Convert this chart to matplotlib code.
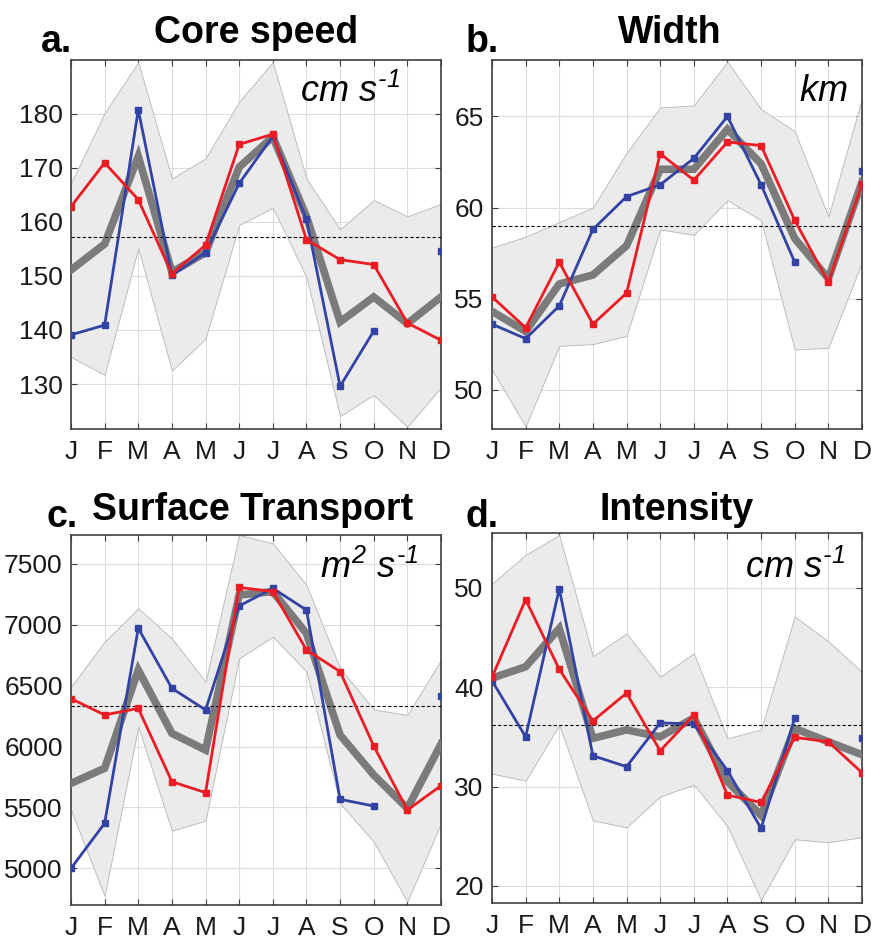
import numpy as np
import matplotlib
matplotlib.use("Agg")
import matplotlib.pyplot as plt

plt.rcParams['font.family'] = ['Liberation Sans', 'DejaVu Sans']
plt.rcParams['mathtext.fontset'] = 'custom'
plt.rcParams['mathtext.it'] = 'Liberation Sans:italic'
plt.rcParams['mathtext.rm'] = 'Liberation Sans:italic'

months = ['J', 'F', 'M', 'A', 'M', 'J', 'J', 'A', 'S', 'O', 'N', 'D']
nan = np.nan

# a. core speed (cm s-1)
speed_mean = [151.1, 155.9, 172.1, 150.7, 154.3, 170.1, 175.7, 161.0, 141.5, 146.1, 141.2, 146.1]
speed_hi = [167.1, 180.1, 189.5, 168.0, 171.7, 182.2, 189.5, 168.0, 158.6, 164.0, 161.0, 163.3]
speed_lo = [135.0, 131.7, 155.1, 132.5, 138.4, 159.4, 162.6, 149.8, 124.1, 128.0, 122.1, 129.4]
speed_red = [162.8, 170.9, 164.1, 150.4, 155.7, 174.3, 176.2, 156.7, 153.0, 152.1, 141.3, 138.1]
speed_blue = [139.1, 140.9, 180.7, 150.1, 154.3, 167.1, 175.8, 160.5, 129.6, 139.8, nan, 154.6]
speed_ref = 157.2

# b. width (km)
width_mean = [54.3, 53.2, 55.8, 56.3, 57.9, 62.1, 62.1, 64.3, 62.4, 58.3, 56.1, 61.4]
width_hi = [57.8, 58.4, 59.2, 60.0, 63.0, 65.5, 65.6, 68.0, 65.4, 64.2, 59.5, 66.0]
width_lo = [51.1, 47.98, 52.4, 52.5, 52.95, 58.8, 58.5, 60.4, 59.3, 52.2, 52.3, 57.0]
width_red = [55.1, 53.4, 57.0, 53.6, 55.3, 62.96, 61.5, 63.6, 63.4, 59.3, 55.9, 61.3]
width_blue = [53.6, 52.8, 54.6, 58.8, 60.6, 61.25, 62.7, 65.0, 61.25, 57.0, nan, 62.0]
width_ref = 59.0

# c. surface transport (m2 s-1)
trans_mean = [5698, 5822, 6629, 6109, 5972, 7245, 7273, 6930, 6095, 5767, 5493, 6021]
trans_hi = [6492, 6862, 7136, 6889, 6533, 7738, 7670, 7327, 6643, 6306, 6260, 6711]
trans_lo = [5479, 4773, 6164, 5309, 5392, 6725, 6903, 6616, 5534, 5219, 4726, 5370]
trans_red = [6394, 6260, 6314, 5712, 5622, 7308, 7273, 6794, 6616, 6005, 5479, 5679]
trans_blue = [5000, 5370, 6972, 6479, 6301, 7155, 7300, 7122, 5567, 5512, nan, 6416]
trans_ref = 6334

# d. intensity (cm s-1)
inten_mean = [40.9, 42.05, 45.9, 34.85, 35.7, 35.0, 36.9, 30.5, 27.1, 35.85, 34.5, 33.2]
inten_hi = [50.4, 53.3, 55.3, 43.1, 45.4, 41.05, 43.4, 34.85, 35.75, 47.1, 44.6, 41.55]
inten_lo = [31.3, 30.6, 36.2, 26.6, 25.9, 29.0, 30.2, 26.0, 18.6, 24.7, 24.4, 24.9]
inten_red = [41.0, 48.8, 41.8, 36.6, 39.4, 33.6, 37.2, 29.15, 28.4, 34.95, 34.5, 31.4]
inten_blue = [40.65, 35.0, 49.9, 33.1, 32.0, 36.4, 36.3, 31.6, 25.8, 36.9, nan, 34.9]
inten_ref = 36.2

x = np.arange(1, 13)

fig = plt.figure(figsize=(8.75, 9.36), dpi=100)

panels = [
    # axes rect, data, ylim, yticks, title, letter, unit, title pos, letter pos, unit pos
    ([71/875, 1-429/936, 370/875, 369/936], speed_mean, speed_hi, speed_lo, speed_red, speed_blue, speed_ref,
     (121.7, 189.9), [130, 140, 150, 160, 170, 180], 'Core speed', 'a.', r'$cm\ s^{‐1}$',
     (256, 43), (41, 52), (0.89, 0.885)),
    ([492/875, 1-429/936, 370/875, 369/936], width_mean, width_hi, width_lo, width_red, width_blue, width_ref,
     (47.84, 68.1), [50, 55, 60, 65], 'Width', 'b.', r'$km$',
     (670, 43), (466, 52), (0.96, 0.89)),
    ([71/875, 1-905/936, 370/875, 370/936], trans_mean, trans_hi, trans_lo, trans_red, trans_blue, trans_ref,
     (4699, 7738), [5000, 5500, 6000, 6500, 7000, 7500], 'Surface Transport', 'c.', r'$m^{2}\ s^{‐1}$',
     (253, 520), (46, 527), (0.94, 0.884)),
    ([492/875, 1-902.7/936, 370/875, 370/936], inten_mean, inten_hi, inten_lo, inten_red, inten_blue, inten_ref,
     (18.32, 55.53), [20, 30, 40, 50], 'Intensity', 'd.', r'$cm\ s^{‐1}$',
     (677, 520), (465, 527), (0.955, 0.877)),
]

for (rect, mean, hi, lo, red, blue, ref, ylim, yticks, title, letter, unit,
     tpos, lpos, upos) in panels:
    ax = fig.add_axes(rect)
    ax.fill_between(x, lo, hi, facecolor='#ebebeb', edgecolor='#bdbdbd', linewidth=0.7, zorder=1)
    ax.plot(x, mean, color='#7b7b7b', linewidth=5.5, solid_joinstyle='miter', zorder=3)
    ax.axhline(ref, color='black', linestyle=(0, (3, 2)), linewidth=0.8, zorder=4)
    ax.plot(x, blue, color='#3343a3', linewidth=2, marker='s', markersize=4.5, zorder=5)
    ax.plot(x, red, color='#ec1c24', linewidth=2, marker='s', markersize=4.5, zorder=6)

    ax.set_xlim(1, 12)
    ax.set_ylim(*ylim)
    ax.set_xticks(x)
    ax.set_xticklabels(months)
    ax.set_yticks(yticks)
    ax.grid(True, color='#dcdcdc', linewidth=0.8, zorder=0)
    ax.set_axisbelow(True)
    ax.tick_params(direction='in', top=True, right=True, length=4, width=0.8,
                   color='#404040', labelsize=19, labelcolor='#1a1a1a')
    ax.tick_params(axis='x', pad=8)
    ax.tick_params(axis='y', pad=6)
    for s in ax.spines.values():
        s.set_color('#404040')
        s.set_linewidth(1.2)

    ax.text(upos[0], upos[1], unit, transform=ax.transAxes, ha='right', va='baseline',
            fontsize=26, color='black', zorder=7)
    fig.text(tpos[0]/875, 1-tpos[1]/936, title, ha='center', va='baseline',
             fontsize=27, fontweight='bold')
    fig.text(lpos[0]/875, 1-lpos[1]/936, letter, ha='left', va='baseline',
             fontsize=27, fontweight='bold')

fig.savefig('out.png', dpi=100)
